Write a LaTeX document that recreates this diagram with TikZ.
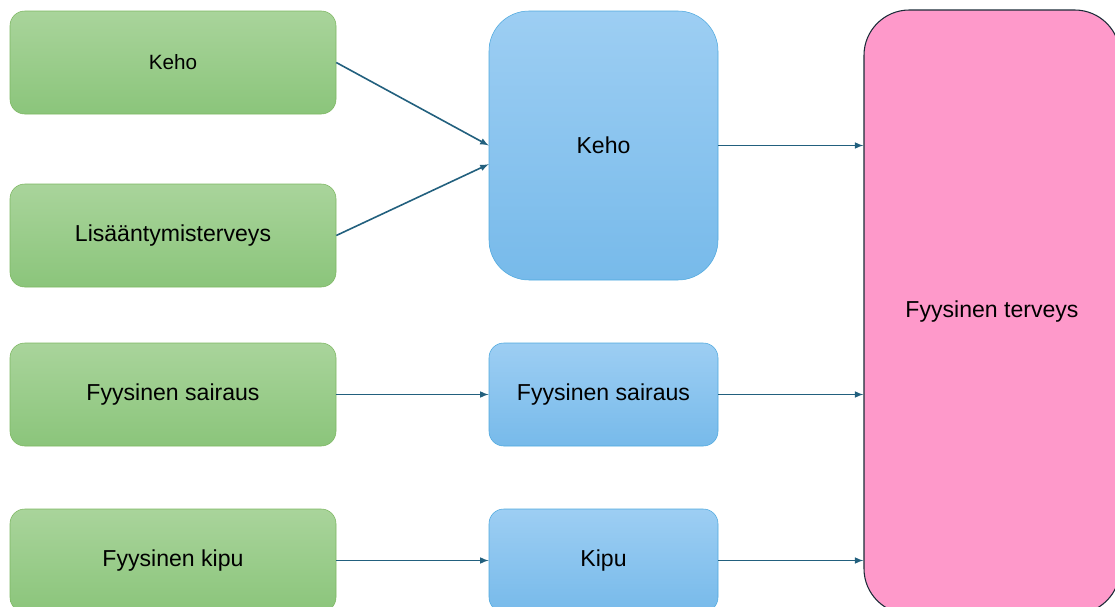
\documentclass[tikz,border=0pt]{standalone}
\usepackage{fontspec}
\setmainfont{Liberation Sans}
\definecolor{grtop}{HTML}{A9D49B}
\definecolor{grbot}{HTML}{8BC57B}
\definecolor{grline}{HTML}{7DB762}
\definecolor{bltop}{HTML}{9DCEF3}
\definecolor{blbot}{HTML}{77BAEA}
\definecolor{blline}{HTML}{4FA9DE}
\definecolor{pinkfill}{HTML}{FE99CA}
\definecolor{pinkline}{HTML}{1B2B38}
\definecolor{arrowc}{HTML}{22607E}
\begin{document}
\begin{tikzpicture}[>=latex, x=0.75pt, y=-0.75pt,
    srcbox/.style={draw=grline, top color=grtop, bottom color=grbot, rounded corners=11pt,
        minimum width=244.5pt, minimum height=77.25pt, font=\fontsize{17.3}{20}\selectfont},
    midbox/.style={draw=blline, top color=bltop, bottom color=blbot, rounded corners=11pt,
        minimum width=171.75pt, minimum height=77.25pt, font=\fontsize{17.3}{20}\selectfont},
    goalbox/.style={draw=pinkline, fill=pinkfill, rounded corners=34pt, thick,
        minimum width=192pt, minimum height=453pt, font=\fontsize{17.3}{20}\selectfont},
    link/.style={->, arrowc, line width=1.2pt}]
\useasboundingbox (0,0) rectangle (1115,607);

% left column
\node[srcbox, font=\fontsize{15.5}{18}\selectfont] (keho) at (173,62.5) {Keho};
\node[srcbox] (lisa) at (173,235.5) {Lisääntymisterveys};
\node[srcbox] (sairaus) at (173,394.5) {Fyysinen sairaus};
\node[srcbox] (kipu) at (173,560.5) {Fyysinen kipu};

% middle column
\node[midbox, rounded corners=30pt, minimum height=201.75pt] (kehoB) at (603.5,145.5) {Keho};
\node[midbox] (sairausB) at (603.5,394.5) {Fyysinen sairaus};
\node[midbox] (kipuB) at (603.5,560.5) {Kipu};

% right
\node[goalbox] (terveys) at (992,312) {Fyysinen terveys};

\draw[link] (keho.east) -- (kehoB.west);
\draw[link] (lisa.east) -- ([yshift=-14pt]kehoB.west);
\draw[link] (sairaus) -- (sairausB);
\draw[link] (kipu) -- (kipuB);

\draw[link] (kehoB.east) -- (kehoB.east -| terveys.west);
\draw[link] (sairausB.east) -- (sairausB.east -| terveys.west);
\draw[link] (kipuB.east) -- (kipuB.east -| terveys.west);
\end{tikzpicture}
\end{document}
